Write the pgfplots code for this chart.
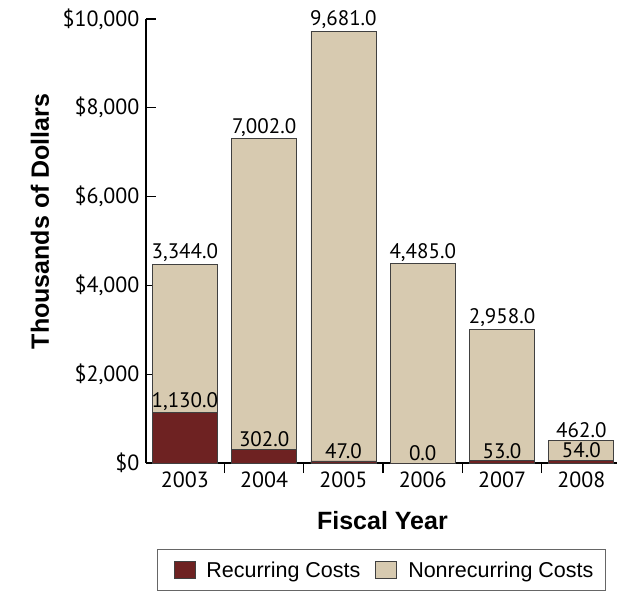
\documentclass[border=0pt]{standalone}
\usepackage{fontspec}
\setmainfont{PT Sans}
\newfontfamily\arial{Liberation Sans}
\usepackage{pgfplots}
\usepackage{pgfplotstable}
\pgfplotsset{compat=1.18}
\definecolor{recred}{HTML}{6E2222}
\definecolor{tanbar}{HTML}{D7CAB0}

\pgfplotstableread{
x rec non
0 1130 3344
1 302 7002
2 47 9681
3 0 4485
4 53 2958
5 54 462
}\costs

\begin{document}
\begin{tikzpicture}
\useasboundingbox (-146pt,-127pt) rectangle (471pt,463pt);
\begin{axis}[
    at={(0pt,0pt)}, anchor=south west,
    scale only axis,
    width=471pt, height=444pt,
    xmin=-0.49, xmax=5.45,
    ymin=0, ymax=10000,
    axis lines=left,
    axis line style={-, line width=1.2pt},
    font=\fontsize{22}{26}\selectfont,
    /pgf/number format/assume math mode=true,
    /pgf/number format/1000 sep={,},
    scaled y ticks=false,
    ytick={0,2000,...,10000},
    yticklabel={\$\pgfmathprintnumber{\tick}},
    yticklabel style={xshift=-3pt},
    tick align=inside,
    major tick length=10pt,
    tick style={line width=1.2pt, black},
    xtick={0.5,1.5,2.5,3.5,4.5},
    xticklabels={},
    extra x ticks={0,1,2,3,4,5},
    extra x tick labels={2003,2004,2005,2006,2007,2008},
    extra x tick style={major tick length=0pt,
        xticklabel style={yshift=-5pt}},
    ylabel={Thousands of Dollars},
    ylabel style={font=\arial\bfseries\fontsize{25}{29}\selectfont,
        at={(axis description cs:-0.225,0.544)}, anchor=center},
    xlabel={Fiscal Year},
    xlabel style={font=\arial\bfseries\fontsize{25}{29}\selectfont,
        at={(axis description cs:0.502,-0.130)}, anchor=center},
    ybar,
    bar width=65pt,
    legend columns=2,
    legend style={at={(0.5,-0.194)}, anchor=north, draw=black!60,
        line width=0.8pt, inner xsep=1pt, inner ysep=9pt,
        font=\arial\fontsize{21.5}{25}\selectfont,
        nodes={inner xsep=11pt, inner ysep=3pt},
        /tikz/every even column/.append style={column sep=4pt}},
    nodes near coords={\pgfmathprintnumber[fixed, fixed zerofill, precision=1]{\pgfplotspointmeta}},
    every node near coord/.append style={font=\fontsize{21}{25}\selectfont, black, inner sep=2pt},
]
\addplot[forget plot, bar shift=0pt, fill=tanbar, draw=black!75, line width=0.8pt,
    point meta=explicit]
    table[x=x, y expr=\thisrow{rec}+\thisrow{non}, meta=non]{\costs};
\addplot[forget plot, bar shift=0pt, fill=recred, draw=black!75, line width=0.8pt,
    point meta=explicit]
    table[x=x, y=rec, meta=rec]{\costs};
\addlegendimage{legend image code/.code={\path (0pt,0pt); \draw[fill=recred, draw=black!75, line width=0.8pt] (15pt,-8pt) rectangle (36pt,9pt);}}
\addlegendentry{Recurring Costs}
\addlegendimage{legend image code/.code={\draw[fill=tanbar, draw=black!75, line width=0.8pt] (0pt,-8pt) rectangle (21pt,9pt);}}
\addlegendentry{Nonrecurring Costs}
\end{axis}
\end{tikzpicture}
\end{document}
